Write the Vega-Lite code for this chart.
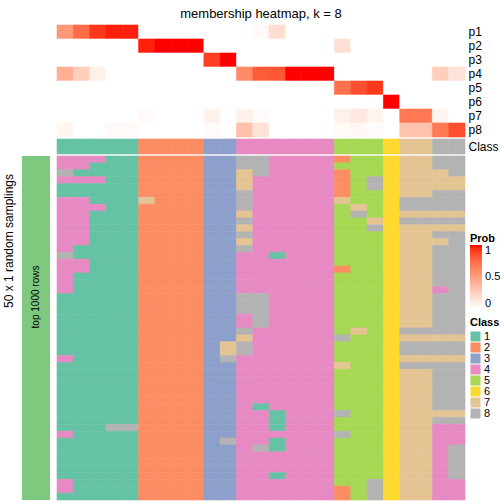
{
"$schema": "https://vega.github.io/schema/vega-lite/v6.json",
"padding": {"left": 2, "top": 7, "right": 0, "bottom": 0},
"bounds": "flush",
"columns": 2,
"spacing": {"row": 2, "column": 7},
"config": {"font": "Liberation Sans", "view": {"stroke": null}},
"datasets": {
"top": [
{"p":"p1","c":0,"v":0.53},{"p":"p1","c":1,"v":0.74},{"p":"p1","c":2,"v":0.92},{"p":"p1","c":3,"v":0.97},{"p":"p1","c":4,"v":0.97},{"p":"p1","c":5,"v":0},{"p":"p1","c":6,"v":0},{"p":"p1","c":7,"v":0},{"p":"p1","c":8,"v":0},{"p":"p1","c":9,"v":0},{"p":"p1","c":10,"v":0},{"p":"p1","c":11,"v":0},{"p":"p1","c":12,"v":0.03},{"p":"p1","c":13,"v":0.18},{"p":"p1","c":14,"v":0},{"p":"p1","c":15,"v":0},{"p":"p1","c":16,"v":0},{"p":"p1","c":17,"v":0},{"p":"p1","c":18,"v":0},{"p":"p1","c":19,"v":0},{"p":"p1","c":20,"v":0},{"p":"p1","c":21,"v":0},{"p":"p1","c":22,"v":0},{"p":"p1","c":23,"v":0},{"p":"p1","c":24,"v":0},
{"p":"p2","c":0,"v":0},{"p":"p2","c":1,"v":0},{"p":"p2","c":2,"v":0},{"p":"p2","c":3,"v":0},{"p":"p2","c":4,"v":0},{"p":"p2","c":5,"v":0.97},{"p":"p2","c":6,"v":1},{"p":"p2","c":7,"v":1},{"p":"p2","c":8,"v":1},{"p":"p2","c":9,"v":0},{"p":"p2","c":10,"v":0},{"p":"p2","c":11,"v":0},{"p":"p2","c":12,"v":0},{"p":"p2","c":13,"v":0},{"p":"p2","c":14,"v":0},{"p":"p2","c":15,"v":0},{"p":"p2","c":16,"v":0},{"p":"p2","c":17,"v":0.17},{"p":"p2","c":18,"v":0},{"p":"p2","c":19,"v":0},{"p":"p2","c":20,"v":0},{"p":"p2","c":21,"v":0},{"p":"p2","c":22,"v":0},{"p":"p2","c":23,"v":0},{"p":"p2","c":24,"v":0},
{"p":"p3","c":0,"v":0},{"p":"p3","c":1,"v":0},{"p":"p3","c":2,"v":0},{"p":"p3","c":3,"v":0},{"p":"p3","c":4,"v":0},{"p":"p3","c":5,"v":0},{"p":"p3","c":6,"v":0},{"p":"p3","c":7,"v":0},{"p":"p3","c":8,"v":0},{"p":"p3","c":9,"v":0.9},{"p":"p3","c":10,"v":1},{"p":"p3","c":11,"v":0},{"p":"p3","c":12,"v":0},{"p":"p3","c":13,"v":0},{"p":"p3","c":14,"v":0},{"p":"p3","c":15,"v":0},{"p":"p3","c":16,"v":0},{"p":"p3","c":17,"v":0},{"p":"p3","c":18,"v":0},{"p":"p3","c":19,"v":0},{"p":"p3","c":20,"v":0},{"p":"p3","c":21,"v":0},{"p":"p3","c":22,"v":0},{"p":"p3","c":23,"v":0},{"p":"p3","c":24,"v":0},
{"p":"p4","c":0,"v":0.42},{"p":"p4","c":1,"v":0.26},{"p":"p4","c":2,"v":0.08},{"p":"p4","c":3,"v":0},{"p":"p4","c":4,"v":0},{"p":"p4","c":5,"v":0},{"p":"p4","c":6,"v":0},{"p":"p4","c":7,"v":0},{"p":"p4","c":8,"v":0},{"p":"p4","c":9,"v":0},{"p":"p4","c":10,"v":0},{"p":"p4","c":11,"v":0.6},{"p":"p4","c":12,"v":0.8},{"p":"p4","c":13,"v":0.82},{"p":"p4","c":14,"v":1},{"p":"p4","c":15,"v":1},{"p":"p4","c":16,"v":1},{"p":"p4","c":17,"v":0},{"p":"p4","c":18,"v":0},{"p":"p4","c":19,"v":0},{"p":"p4","c":20,"v":0},{"p":"p4","c":21,"v":0},{"p":"p4","c":22,"v":0},{"p":"p4","c":23,"v":0.26},{"p":"p4","c":24,"v":0.15},
{"p":"p5","c":0,"v":0},{"p":"p5","c":1,"v":0},{"p":"p5","c":2,"v":0},{"p":"p5","c":3,"v":0},{"p":"p5","c":4,"v":0},{"p":"p5","c":5,"v":0},{"p":"p5","c":6,"v":0},{"p":"p5","c":7,"v":0},{"p":"p5","c":8,"v":0},{"p":"p5","c":9,"v":0},{"p":"p5","c":10,"v":0},{"p":"p5","c":11,"v":0},{"p":"p5","c":12,"v":0},{"p":"p5","c":13,"v":0},{"p":"p5","c":14,"v":0},{"p":"p5","c":15,"v":0},{"p":"p5","c":16,"v":0},{"p":"p5","c":17,"v":0.72},{"p":"p5","c":18,"v":0.84},{"p":"p5","c":19,"v":0.92},{"p":"p5","c":20,"v":0},{"p":"p5","c":21,"v":0},{"p":"p5","c":22,"v":0},{"p":"p5","c":23,"v":0},{"p":"p5","c":24,"v":0},
{"p":"p6","c":0,"v":0},{"p":"p6","c":1,"v":0},{"p":"p6","c":2,"v":0},{"p":"p6","c":3,"v":0},{"p":"p6","c":4,"v":0},{"p":"p6","c":5,"v":0},{"p":"p6","c":6,"v":0},{"p":"p6","c":7,"v":0},{"p":"p6","c":8,"v":0},{"p":"p6","c":9,"v":0},{"p":"p6","c":10,"v":0},{"p":"p6","c":11,"v":0},{"p":"p6","c":12,"v":0},{"p":"p6","c":13,"v":0},{"p":"p6","c":14,"v":0},{"p":"p6","c":15,"v":0},{"p":"p6","c":16,"v":0},{"p":"p6","c":17,"v":0},{"p":"p6","c":18,"v":0},{"p":"p6","c":19,"v":0},{"p":"p6","c":20,"v":1},{"p":"p6","c":21,"v":0},{"p":"p6","c":22,"v":0},{"p":"p6","c":23,"v":0},{"p":"p6","c":24,"v":0},
{"p":"p7","c":0,"v":0},{"p":"p7","c":1,"v":0},{"p":"p7","c":2,"v":0},{"p":"p7","c":3,"v":0},{"p":"p7","c":4,"v":0},{"p":"p7","c":5,"v":0.03},{"p":"p7","c":6,"v":0},{"p":"p7","c":7,"v":0},{"p":"p7","c":8,"v":0},{"p":"p7","c":9,"v":0.07},{"p":"p7","c":10,"v":0},{"p":"p7","c":11,"v":0.07},{"p":"p7","c":12,"v":0.02},{"p":"p7","c":13,"v":0},{"p":"p7","c":14,"v":0},{"p":"p7","c":15,"v":0},{"p":"p7","c":16,"v":0},{"p":"p7","c":17,"v":0.08},{"p":"p7","c":18,"v":0.12},{"p":"p7","c":19,"v":0.06},{"p":"p7","c":20,"v":0},{"p":"p7","c":21,"v":0.68},{"p":"p7","c":22,"v":0.68},{"p":"p7","c":23,"v":0.06},{"p":"p7","c":24,"v":0},
{"p":"p8","c":0,"v":0.05},{"p":"p8","c":1,"v":0},{"p":"p8","c":2,"v":0},{"p":"p8","c":3,"v":0.03},{"p":"p8","c":4,"v":0.03},{"p":"p8","c":5,"v":0},{"p":"p8","c":6,"v":0},{"p":"p8","c":7,"v":0},{"p":"p8","c":8,"v":0},{"p":"p8","c":9,"v":0.03},{"p":"p8","c":10,"v":0},{"p":"p8","c":11,"v":0.33},{"p":"p8","c":12,"v":0.15},{"p":"p8","c":13,"v":0},{"p":"p8","c":14,"v":0},{"p":"p8","c":15,"v":0},{"p":"p8","c":16,"v":0},{"p":"p8","c":17,"v":0.03},{"p":"p8","c":18,"v":0.04},{"p":"p8","c":19,"v":0.02},{"p":"p8","c":20,"v":0},{"p":"p8","c":21,"v":0.32},{"p":"p8","c":22,"v":0.32},{"p":"p8","c":23,"v":0.68},{"p":"p8","c":24,"v":0.85}
],
"cls": [
{"c":0,"k":1},{"c":1,"k":1},{"c":2,"k":1},{"c":3,"k":1},{"c":4,"k":1},{"c":5,"k":2},{"c":6,"k":2},{"c":7,"k":2},{"c":8,"k":2},{"c":9,"k":3},{"c":10,"k":3},{"c":11,"k":4},{"c":12,"k":4},{"c":13,"k":4},{"c":14,"k":4},{"c":15,"k":4},{"c":16,"k":4},{"c":17,"k":5},{"c":18,"k":5},{"c":19,"k":5},{"c":20,"k":6},{"c":21,"k":7},{"c":22,"k":7},{"c":23,"k":8},{"c":24,"k":8}
],
"mem": [
{"r":0,"c":0,"k":4},{"r":0,"c":1,"k":4},{"r":0,"c":2,"k":4},{"r":0,"c":3,"k":1},{"r":0,"c":4,"k":1},{"r":0,"c":5,"k":2},{"r":0,"c":6,"k":2},{"r":0,"c":7,"k":2},{"r":0,"c":8,"k":2},{"r":0,"c":9,"k":3},{"r":0,"c":10,"k":3},{"r":0,"c":11,"k":8},{"r":0,"c":12,"k":8},{"r":0,"c":13,"k":4},{"r":0,"c":14,"k":4},{"r":0,"c":15,"k":4},{"r":0,"c":16,"k":4},{"r":0,"c":17,"k":2},{"r":0,"c":18,"k":5},{"r":0,"c":19,"k":5},{"r":0,"c":20,"k":6},{"r":0,"c":21,"k":7},{"r":0,"c":22,"k":7},{"r":0,"c":23,"k":8},{"r":0,"c":24,"k":8},
{"r":1,"c":0,"k":4},{"r":1,"c":1,"k":4},{"r":1,"c":2,"k":1},{"r":1,"c":3,"k":1},{"r":1,"c":4,"k":1},{"r":1,"c":5,"k":2},{"r":1,"c":6,"k":2},{"r":1,"c":7,"k":2},{"r":1,"c":8,"k":2},{"r":1,"c":9,"k":3},{"r":1,"c":10,"k":3},{"r":1,"c":11,"k":8},{"r":1,"c":12,"k":8},{"r":1,"c":13,"k":4},{"r":1,"c":14,"k":4},{"r":1,"c":15,"k":4},{"r":1,"c":16,"k":4},{"r":1,"c":17,"k":5},{"r":1,"c":18,"k":5},{"r":1,"c":19,"k":5},{"r":1,"c":20,"k":6},{"r":1,"c":21,"k":7},{"r":1,"c":22,"k":7},{"r":1,"c":23,"k":8},{"r":1,"c":24,"k":8},
{"r":2,"c":0,"k":8},{"r":2,"c":1,"k":1},{"r":2,"c":2,"k":1},{"r":2,"c":3,"k":1},{"r":2,"c":4,"k":1},{"r":2,"c":5,"k":2},{"r":2,"c":6,"k":2},{"r":2,"c":7,"k":2},{"r":2,"c":8,"k":2},{"r":2,"c":9,"k":3},{"r":2,"c":10,"k":3},{"r":2,"c":11,"k":7},{"r":2,"c":12,"k":8},{"r":2,"c":13,"k":4},{"r":2,"c":14,"k":4},{"r":2,"c":15,"k":4},{"r":2,"c":16,"k":4},{"r":2,"c":17,"k":2},{"r":2,"c":18,"k":5},{"r":2,"c":19,"k":5},{"r":2,"c":20,"k":6},{"r":2,"c":21,"k":7},{"r":2,"c":22,"k":7},{"r":2,"c":23,"k":7},{"r":2,"c":24,"k":8},
{"r":3,"c":0,"k":4},{"r":3,"c":1,"k":4},{"r":3,"c":2,"k":4},{"r":3,"c":3,"k":1},{"r":3,"c":4,"k":1},{"r":3,"c":5,"k":2},{"r":3,"c":6,"k":2},{"r":3,"c":7,"k":2},{"r":3,"c":8,"k":2},{"r":3,"c":9,"k":3},{"r":3,"c":10,"k":3},{"r":3,"c":11,"k":7},{"r":3,"c":12,"k":4},{"r":3,"c":13,"k":4},{"r":3,"c":14,"k":4},{"r":3,"c":15,"k":4},{"r":3,"c":16,"k":4},{"r":3,"c":17,"k":2},{"r":3,"c":18,"k":5},{"r":3,"c":19,"k":8},{"r":3,"c":20,"k":6},{"r":3,"c":21,"k":7},{"r":3,"c":22,"k":7},{"r":3,"c":23,"k":7},{"r":3,"c":24,"k":7},
{"r":4,"c":0,"k":1},{"r":4,"c":1,"k":1},{"r":4,"c":2,"k":1},{"r":4,"c":3,"k":1},{"r":4,"c":4,"k":1},{"r":4,"c":5,"k":2},{"r":4,"c":6,"k":2},{"r":4,"c":7,"k":2},{"r":4,"c":8,"k":2},{"r":4,"c":9,"k":3},{"r":4,"c":10,"k":3},{"r":4,"c":11,"k":7},{"r":4,"c":12,"k":4},{"r":4,"c":13,"k":4},{"r":4,"c":14,"k":4},{"r":4,"c":15,"k":4},{"r":4,"c":16,"k":4},{"r":4,"c":17,"k":2},{"r":4,"c":18,"k":5},{"r":4,"c":19,"k":8},{"r":4,"c":20,"k":6},{"r":4,"c":21,"k":7},{"r":4,"c":22,"k":7},{"r":4,"c":23,"k":7},{"r":4,"c":24,"k":7},
{"r":5,"c":0,"k":1},{"r":5,"c":1,"k":1},{"r":5,"c":2,"k":1},{"r":5,"c":3,"k":1},{"r":5,"c":4,"k":1},{"r":5,"c":5,"k":2},{"r":5,"c":6,"k":2},{"r":5,"c":7,"k":2},{"r":5,"c":8,"k":2},{"r":5,"c":9,"k":3},{"r":5,"c":10,"k":3},{"r":5,"c":11,"k":8},{"r":5,"c":12,"k":4},{"r":5,"c":13,"k":4},{"r":5,"c":14,"k":4},{"r":5,"c":15,"k":4},{"r":5,"c":16,"k":4},{"r":5,"c":17,"k":2},{"r":5,"c":18,"k":5},{"r":5,"c":19,"k":5},{"r":5,"c":20,"k":6},{"r":5,"c":21,"k":7},{"r":5,"c":22,"k":7},{"r":5,"c":23,"k":8},{"r":5,"c":24,"k":8},
{"r":6,"c":0,"k":4},{"r":6,"c":1,"k":4},{"r":6,"c":2,"k":1},{"r":6,"c":3,"k":1},{"r":6,"c":4,"k":1},{"r":6,"c":5,"k":7},{"r":6,"c":6,"k":2},{"r":6,"c":7,"k":2},{"r":6,"c":8,"k":2},{"r":6,"c":9,"k":3},{"r":6,"c":10,"k":3},{"r":6,"c":11,"k":8},{"r":6,"c":12,"k":4},{"r":6,"c":13,"k":4},{"r":6,"c":14,"k":4},{"r":6,"c":15,"k":4},{"r":6,"c":16,"k":4},{"r":6,"c":17,"k":7},{"r":6,"c":18,"k":5},{"r":6,"c":19,"k":5},{"r":6,"c":20,"k":6},{"r":6,"c":21,"k":8},{"r":6,"c":22,"k":8},{"r":6,"c":23,"k":8},{"r":6,"c":24,"k":8},
{"r":7,"c":0,"k":4},{"r":7,"c":1,"k":4},{"r":7,"c":2,"k":4},{"r":7,"c":3,"k":1},{"r":7,"c":4,"k":1},{"r":7,"c":5,"k":2},{"r":7,"c":6,"k":2},{"r":7,"c":7,"k":2},{"r":7,"c":8,"k":2},{"r":7,"c":9,"k":3},{"r":7,"c":10,"k":3},{"r":7,"c":11,"k":8},{"r":7,"c":12,"k":4},{"r":7,"c":13,"k":4},{"r":7,"c":14,"k":4},{"r":7,"c":15,"k":4},{"r":7,"c":16,"k":4},{"r":7,"c":17,"k":5},{"r":7,"c":18,"k":7},{"r":7,"c":19,"k":5},{"r":7,"c":20,"k":6},{"r":7,"c":21,"k":8},{"r":7,"c":22,"k":8},{"r":7,"c":23,"k":8},{"r":7,"c":24,"k":8},
{"r":8,"c":0,"k":4},{"r":8,"c":1,"k":4},{"r":8,"c":2,"k":1},{"r":8,"c":3,"k":1},{"r":8,"c":4,"k":1},{"r":8,"c":5,"k":2},{"r":8,"c":6,"k":2},{"r":8,"c":7,"k":2},{"r":8,"c":8,"k":2},{"r":8,"c":9,"k":3},{"r":8,"c":10,"k":3},{"r":8,"c":11,"k":7},{"r":8,"c":12,"k":4},{"r":8,"c":13,"k":4},{"r":8,"c":14,"k":4},{"r":8,"c":15,"k":4},{"r":8,"c":16,"k":4},{"r":8,"c":17,"k":5},{"r":8,"c":18,"k":8},{"r":8,"c":19,"k":5},{"r":8,"c":20,"k":6},{"r":8,"c":21,"k":7},{"r":8,"c":22,"k":7},{"r":8,"c":23,"k":7},{"r":8,"c":24,"k":7},
{"r":9,"c":0,"k":4},{"r":9,"c":1,"k":4},{"r":9,"c":2,"k":1},{"r":9,"c":3,"k":1},{"r":9,"c":4,"k":1},{"r":9,"c":5,"k":2},{"r":9,"c":6,"k":2},{"r":9,"c":7,"k":2},{"r":9,"c":8,"k":2},{"r":9,"c":9,"k":3},{"r":9,"c":10,"k":3},{"r":9,"c":11,"k":8},{"r":9,"c":12,"k":4},{"r":9,"c":13,"k":4},{"r":9,"c":14,"k":4},{"r":9,"c":15,"k":4},{"r":9,"c":16,"k":4},{"r":9,"c":17,"k":5},{"r":9,"c":18,"k":5},{"r":9,"c":19,"k":7},{"r":9,"c":20,"k":6},{"r":9,"c":21,"k":8},{"r":9,"c":22,"k":8},{"r":9,"c":23,"k":8},{"r":9,"c":24,"k":8},
{"r":10,"c":0,"k":4},{"r":10,"c":1,"k":4},{"r":10,"c":2,"k":1},{"r":10,"c":3,"k":1},{"r":10,"c":4,"k":1},{"r":10,"c":5,"k":2},{"r":10,"c":6,"k":2},{"r":10,"c":7,"k":2},{"r":10,"c":8,"k":2},{"r":10,"c":9,"k":3},{"r":10,"c":10,"k":3},{"r":10,"c":11,"k":7},{"r":10,"c":12,"k":4},{"r":10,"c":13,"k":4},{"r":10,"c":14,"k":4},{"r":10,"c":15,"k":4},{"r":10,"c":16,"k":4},{"r":10,"c":17,"k":5},{"r":10,"c":18,"k":5},{"r":10,"c":19,"k":8},{"r":10,"c":20,"k":6},{"r":10,"c":21,"k":7},{"r":10,"c":22,"k":7},{"r":10,"c":23,"k":7},{"r":10,"c":24,"k":7},
{"r":11,"c":0,"k":4},{"r":11,"c":1,"k":4},{"r":11,"c":2,"k":1},{"r":11,"c":3,"k":1},{"r":11,"c":4,"k":1},{"r":11,"c":5,"k":2},{"r":11,"c":6,"k":2},{"r":11,"c":7,"k":2},{"r":11,"c":8,"k":2},{"r":11,"c":9,"k":3},{"r":11,"c":10,"k":3},{"r":11,"c":11,"k":8},{"r":11,"c":12,"k":4},{"r":11,"c":13,"k":4},{"r":11,"c":14,"k":4},{"r":11,"c":15,"k":4},{"r":11,"c":16,"k":4},{"r":11,"c":17,"k":5},{"r":11,"c":18,"k":5},{"r":11,"c":19,"k":5},{"r":11,"c":20,"k":6},{"r":11,"c":21,"k":7},{"r":11,"c":22,"k":7},{"r":11,"c":23,"k":8},{"r":11,"c":24,"k":8},
{"r":12,"c":0,"k":4},{"r":12,"c":1,"k":4},{"r":12,"c":2,"k":1},{"r":12,"c":3,"k":1},{"r":12,"c":4,"k":1},{"r":12,"c":5,"k":2},{"r":12,"c":6,"k":2},{"r":12,"c":7,"k":2},{"r":12,"c":8,"k":2},{"r":12,"c":9,"k":3},{"r":12,"c":10,"k":3},{"r":12,"c":11,"k":7},{"r":12,"c":12,"k":4},{"r":12,"c":13,"k":4},{"r":12,"c":14,"k":4},{"r":12,"c":15,"k":4},{"r":12,"c":16,"k":4},{"r":12,"c":17,"k":5},{"r":12,"c":18,"k":5},{"r":12,"c":19,"k":5},{"r":12,"c":20,"k":6},{"r":12,"c":21,"k":7},{"r":12,"c":22,"k":7},{"r":12,"c":23,"k":7},{"r":12,"c":24,"k":8},
{"r":13,"c":0,"k":4},{"r":13,"c":1,"k":1},{"r":13,"c":2,"k":1},{"r":13,"c":3,"k":1},{"r":13,"c":4,"k":1},{"r":13,"c":5,"k":2},{"r":13,"c":6,"k":2},{"r":13,"c":7,"k":2},{"r":13,"c":8,"k":2},{"r":13,"c":9,"k":3},{"r":13,"c":10,"k":3},{"r":13,"c":11,"k":8},{"r":13,"c":12,"k":4},{"r":13,"c":13,"k":4},{"r":13,"c":14,"k":4},{"r":13,"c":15,"k":4},{"r":13,"c":16,"k":4},{"r":13,"c":17,"k":5},{"r":13,"c":18,"k":5},{"r":13,"c":19,"k":5},{"r":13,"c":20,"k":6},{"r":13,"c":21,"k":7},{"r":13,"c":22,"k":7},{"r":13,"c":23,"k":8},{"r":13,"c":24,"k":8},
{"r":14,"c":0,"k":8},{"r":14,"c":1,"k":1},{"r":14,"c":2,"k":1},{"r":14,"c":3,"k":1},{"r":14,"c":4,"k":1},{"r":14,"c":5,"k":2},{"r":14,"c":6,"k":2},{"r":14,"c":7,"k":2},{"r":14,"c":8,"k":2},{"r":14,"c":9,"k":3},{"r":14,"c":10,"k":3},{"r":14,"c":11,"k":4},{"r":14,"c":12,"k":4},{"r":14,"c":13,"k":1},{"r":14,"c":14,"k":4},{"r":14,"c":15,"k":4},{"r":14,"c":16,"k":4},{"r":14,"c":17,"k":5},{"r":14,"c":18,"k":5},{"r":14,"c":19,"k":5},{"r":14,"c":20,"k":6},{"r":14,"c":21,"k":7},{"r":14,"c":22,"k":7},{"r":14,"c":23,"k":8},{"r":14,"c":24,"k":8},
{"r":15,"c":0,"k":4},{"r":15,"c":1,"k":4},{"r":15,"c":2,"k":1},{"r":15,"c":3,"k":1},{"r":15,"c":4,"k":1},{"r":15,"c":5,"k":2},{"r":15,"c":6,"k":2},{"r":15,"c":7,"k":2},{"r":15,"c":8,"k":2},{"r":15,"c":9,"k":3},{"r":15,"c":10,"k":3},{"r":15,"c":11,"k":4},{"r":15,"c":12,"k":4},{"r":15,"c":13,"k":4},{"r":15,"c":14,"k":4},{"r":15,"c":15,"k":4},{"r":15,"c":16,"k":4},{"r":15,"c":17,"k":5},{"r":15,"c":18,"k":5},{"r":15,"c":19,"k":5},{"r":15,"c":20,"k":6},{"r":15,"c":21,"k":7},{"r":15,"c":22,"k":7},{"r":15,"c":23,"k":8},{"r":15,"c":24,"k":8},
{"r":16,"c":0,"k":4},{"r":16,"c":1,"k":4},{"r":16,"c":2,"k":1},{"r":16,"c":3,"k":1},{"r":16,"c":4,"k":1},{"r":16,"c":5,"k":2},{"r":16,"c":6,"k":2},{"r":16,"c":7,"k":2},{"r":16,"c":8,"k":2},{"r":16,"c":9,"k":3},{"r":16,"c":10,"k":3},{"r":16,"c":11,"k":4},{"r":16,"c":12,"k":4},{"r":16,"c":13,"k":4},{"r":16,"c":14,"k":4},{"r":16,"c":15,"k":4},{"r":16,"c":16,"k":4},{"r":16,"c":17,"k":2},{"r":16,"c":18,"k":5},{"r":16,"c":19,"k":5},{"r":16,"c":20,"k":6},{"r":16,"c":21,"k":7},{"r":16,"c":22,"k":7},{"r":16,"c":23,"k":8},{"r":16,"c":24,"k":8},
{"r":17,"c":0,"k":4},{"r":17,"c":1,"k":1},{"r":17,"c":2,"k":1},{"r":17,"c":3,"k":1},{"r":17,"c":4,"k":1},{"r":17,"c":5,"k":2},{"r":17,"c":6,"k":2},{"r":17,"c":7,"k":2},{"r":17,"c":8,"k":2},{"r":17,"c":9,"k":3},{"r":17,"c":10,"k":3},{"r":17,"c":11,"k":4},{"r":17,"c":12,"k":4},{"r":17,"c":13,"k":4},{"r":17,"c":14,"k":4},{"r":17,"c":15,"k":4},{"r":17,"c":16,"k":4},{"r":17,"c":17,"k":5},{"r":17,"c":18,"k":5},{"r":17,"c":19,"k":5},{"r":17,"c":20,"k":6},{"r":17,"c":21,"k":7},{"r":17,"c":22,"k":7},{"r":17,"c":23,"k":8},{"r":17,"c":24,"k":8},
{"r":18,"c":0,"k":4},{"r":18,"c":1,"k":1},{"r":18,"c":2,"k":1},{"r":18,"c":3,"k":1},{"r":18,"c":4,"k":1},{"r":18,"c":5,"k":2},{"r":18,"c":6,"k":2},{"r":18,"c":7,"k":2},{"r":18,"c":8,"k":2},{"r":18,"c":9,"k":3},{"r":18,"c":10,"k":3},{"r":18,"c":11,"k":4},{"r":18,"c":12,"k":4},{"r":18,"c":13,"k":4},{"r":18,"c":14,"k":4},{"r":18,"c":15,"k":4},{"r":18,"c":16,"k":4},{"r":18,"c":17,"k":5},{"r":18,"c":18,"k":5},{"r":18,"c":19,"k":5},{"r":18,"c":20,"k":6},{"r":18,"c":21,"k":7},{"r":18,"c":22,"k":7},{"r":18,"c":23,"k":8},{"r":18,"c":24,"k":8},
{"r":19,"c":0,"k":4},{"r":19,"c":1,"k":1},{"r":19,"c":2,"k":1},{"r":19,"c":3,"k":1},{"r":19,"c":4,"k":1},{"r":19,"c":5,"k":2},{"r":19,"c":6,"k":2},{"r":19,"c":7,"k":2},{"r":19,"c":8,"k":2},{"r":19,"c":9,"k":3},{"r":19,"c":10,"k":3},{"r":19,"c":11,"k":4},{"r":19,"c":12,"k":4},{"r":19,"c":13,"k":4},{"r":19,"c":14,"k":4},{"r":19,"c":15,"k":4},{"r":19,"c":16,"k":4},{"r":19,"c":17,"k":5},{"r":19,"c":18,"k":5},{"r":19,"c":19,"k":5},{"r":19,"c":20,"k":6},{"r":19,"c":21,"k":7},{"r":19,"c":22,"k":7},{"r":19,"c":23,"k":4},{"r":19,"c":24,"k":8},
{"r":20,"c":0,"k":1},{"r":20,"c":1,"k":1},{"r":20,"c":2,"k":1},{"r":20,"c":3,"k":1},{"r":20,"c":4,"k":1},{"r":20,"c":5,"k":2},{"r":20,"c":6,"k":2},{"r":20,"c":7,"k":2},{"r":20,"c":8,"k":2},{"r":20,"c":9,"k":3},{"r":20,"c":10,"k":3},{"r":20,"c":11,"k":8},{"r":20,"c":12,"k":8},{"r":20,"c":13,"k":4},{"r":20,"c":14,"k":4},{"r":20,"c":15,"k":4},{"r":20,"c":16,"k":4},{"r":20,"c":17,"k":5},{"r":20,"c":18,"k":5},{"r":20,"c":19,"k":5},{"r":20,"c":20,"k":6},{"r":20,"c":21,"k":7},{"r":20,"c":22,"k":7},{"r":20,"c":23,"k":8},{"r":20,"c":24,"k":8},
{"r":21,"c":0,"k":1},{"r":21,"c":1,"k":1},{"r":21,"c":2,"k":1},{"r":21,"c":3,"k":1},{"r":21,"c":4,"k":1},{"r":21,"c":5,"k":2},{"r":21,"c":6,"k":2},{"r":21,"c":7,"k":2},{"r":21,"c":8,"k":2},{"r":21,"c":9,"k":3},{"r":21,"c":10,"k":3},{"r":21,"c":11,"k":8},{"r":21,"c":12,"k":8},{"r":21,"c":13,"k":4},{"r":21,"c":14,"k":4},{"r":21,"c":15,"k":4},{"r":21,"c":16,"k":4},{"r":21,"c":17,"k":5},{"r":21,"c":18,"k":5},{"r":21,"c":19,"k":5},{"r":21,"c":20,"k":6},{"r":21,"c":21,"k":7},{"r":21,"c":22,"k":7},{"r":21,"c":23,"k":8},{"r":21,"c":24,"k":8},
{"r":22,"c":0,"k":1},{"r":22,"c":1,"k":1},{"r":22,"c":2,"k":1},{"r":22,"c":3,"k":1},{"r":22,"c":4,"k":1},{"r":22,"c":5,"k":2},{"r":22,"c":6,"k":2},{"r":22,"c":7,"k":2},{"r":22,"c":8,"k":2},{"r":22,"c":9,"k":3},{"r":22,"c":10,"k":3},{"r":22,"c":11,"k":8},{"r":22,"c":12,"k":8},{"r":22,"c":13,"k":4},{"r":22,"c":14,"k":4},{"r":22,"c":15,"k":4},{"r":22,"c":16,"k":4},{"r":22,"c":17,"k":5},{"r":22,"c":18,"k":5},{"r":22,"c":19,"k":5},{"r":22,"c":20,"k":6},{"r":22,"c":21,"k":7},{"r":22,"c":22,"k":7},{"r":22,"c":23,"k":8},{"r":22,"c":24,"k":8},
{"r":23,"c":0,"k":1},{"r":23,"c":1,"k":1},{"r":23,"c":2,"k":1},{"r":23,"c":3,"k":1},{"r":23,"c":4,"k":1},{"r":23,"c":5,"k":2},{"r":23,"c":6,"k":2},{"r":23,"c":7,"k":2},{"r":23,"c":8,"k":2},{"r":23,"c":9,"k":3},{"r":23,"c":10,"k":3},{"r":23,"c":11,"k":4},{"r":23,"c":12,"k":8},{"r":23,"c":13,"k":4},{"r":23,"c":14,"k":4},{"r":23,"c":15,"k":4},{"r":23,"c":16,"k":4},{"r":23,"c":17,"k":5},{"r":23,"c":18,"k":5},{"r":23,"c":19,"k":5},{"r":23,"c":20,"k":6},{"r":23,"c":21,"k":7},{"r":23,"c":22,"k":7},{"r":23,"c":23,"k":8},{"r":23,"c":24,"k":8},
{"r":24,"c":0,"k":1},{"r":24,"c":1,"k":1},{"r":24,"c":2,"k":1},{"r":24,"c":3,"k":1},{"r":24,"c":4,"k":1},{"r":24,"c":5,"k":2},{"r":24,"c":6,"k":2},{"r":24,"c":7,"k":2},{"r":24,"c":8,"k":2},{"r":24,"c":9,"k":3},{"r":24,"c":10,"k":3},{"r":24,"c":11,"k":4},{"r":24,"c":12,"k":8},{"r":24,"c":13,"k":4},{"r":24,"c":14,"k":4},{"r":24,"c":15,"k":4},{"r":24,"c":16,"k":4},{"r":24,"c":17,"k":5},{"r":24,"c":18,"k":5},{"r":24,"c":19,"k":5},{"r":24,"c":20,"k":6},{"r":24,"c":21,"k":7},{"r":24,"c":22,"k":7},{"r":24,"c":23,"k":8},{"r":24,"c":24,"k":8},
{"r":25,"c":0,"k":1},{"r":25,"c":1,"k":1},{"r":25,"c":2,"k":1},{"r":25,"c":3,"k":1},{"r":25,"c":4,"k":1},{"r":25,"c":5,"k":2},{"r":25,"c":6,"k":2},{"r":25,"c":7,"k":2},{"r":25,"c":8,"k":2},{"r":25,"c":9,"k":3},{"r":25,"c":10,"k":3},{"r":25,"c":11,"k":8},{"r":25,"c":12,"k":4},{"r":25,"c":13,"k":4},{"r":25,"c":14,"k":4},{"r":25,"c":15,"k":4},{"r":25,"c":16,"k":4},{"r":25,"c":17,"k":5},{"r":25,"c":18,"k":7},{"r":25,"c":19,"k":5},{"r":25,"c":20,"k":6},{"r":25,"c":21,"k":8},{"r":25,"c":22,"k":8},{"r":25,"c":23,"k":8},{"r":25,"c":24,"k":8},
{"r":26,"c":0,"k":1},{"r":26,"c":1,"k":1},{"r":26,"c":2,"k":1},{"r":26,"c":3,"k":1},{"r":26,"c":4,"k":1},{"r":26,"c":5,"k":2},{"r":26,"c":6,"k":2},{"r":26,"c":7,"k":2},{"r":26,"c":8,"k":2},{"r":26,"c":9,"k":3},{"r":26,"c":10,"k":3},{"r":26,"c":11,"k":7},{"r":26,"c":12,"k":4},{"r":26,"c":13,"k":4},{"r":26,"c":14,"k":4},{"r":26,"c":15,"k":4},{"r":26,"c":16,"k":4},{"r":26,"c":17,"k":8},{"r":26,"c":18,"k":5},{"r":26,"c":19,"k":5},{"r":26,"c":20,"k":6},{"r":26,"c":21,"k":7},{"r":26,"c":22,"k":7},{"r":26,"c":23,"k":7},{"r":26,"c":24,"k":7},
{"r":27,"c":0,"k":1},{"r":27,"c":1,"k":1},{"r":27,"c":2,"k":1},{"r":27,"c":3,"k":1},{"r":27,"c":4,"k":1},{"r":27,"c":5,"k":2},{"r":27,"c":6,"k":2},{"r":27,"c":7,"k":2},{"r":27,"c":8,"k":2},{"r":27,"c":9,"k":3},{"r":27,"c":10,"k":7},{"r":27,"c":11,"k":8},{"r":27,"c":12,"k":4},{"r":27,"c":13,"k":4},{"r":27,"c":14,"k":4},{"r":27,"c":15,"k":4},{"r":27,"c":16,"k":4},{"r":27,"c":17,"k":5},{"r":27,"c":18,"k":5},{"r":27,"c":19,"k":5},{"r":27,"c":20,"k":6},{"r":27,"c":21,"k":8},{"r":27,"c":22,"k":8},{"r":27,"c":23,"k":8},{"r":27,"c":24,"k":8},
{"r":28,"c":0,"k":1},{"r":28,"c":1,"k":1},{"r":28,"c":2,"k":1},{"r":28,"c":3,"k":1},{"r":28,"c":4,"k":1},{"r":28,"c":5,"k":2},{"r":28,"c":6,"k":2},{"r":28,"c":7,"k":2},{"r":28,"c":8,"k":2},{"r":28,"c":9,"k":3},{"r":28,"c":10,"k":7},{"r":28,"c":11,"k":8},{"r":28,"c":12,"k":4},{"r":28,"c":13,"k":4},{"r":28,"c":14,"k":4},{"r":28,"c":15,"k":4},{"r":28,"c":16,"k":4},{"r":28,"c":17,"k":5},{"r":28,"c":18,"k":5},{"r":28,"c":19,"k":5},{"r":28,"c":20,"k":6},{"r":28,"c":21,"k":8},{"r":28,"c":22,"k":8},{"r":28,"c":23,"k":8},{"r":28,"c":24,"k":8},
{"r":29,"c":0,"k":4},{"r":29,"c":1,"k":1},{"r":29,"c":2,"k":1},{"r":29,"c":3,"k":1},{"r":29,"c":4,"k":1},{"r":29,"c":5,"k":2},{"r":29,"c":6,"k":2},{"r":29,"c":7,"k":2},{"r":29,"c":8,"k":2},{"r":29,"c":9,"k":3},{"r":29,"c":10,"k":8},{"r":29,"c":11,"k":4},{"r":29,"c":12,"k":4},{"r":29,"c":13,"k":4},{"r":29,"c":14,"k":4},{"r":29,"c":15,"k":4},{"r":29,"c":16,"k":4},{"r":29,"c":17,"k":5},{"r":29,"c":18,"k":5},{"r":29,"c":19,"k":5},{"r":29,"c":20,"k":6},{"r":29,"c":21,"k":7},{"r":29,"c":22,"k":7},{"r":29,"c":23,"k":7},{"r":29,"c":24,"k":7},
{"r":30,"c":0,"k":1},{"r":30,"c":1,"k":1},{"r":30,"c":2,"k":1},{"r":30,"c":3,"k":1},{"r":30,"c":4,"k":1},{"r":30,"c":5,"k":2},{"r":30,"c":6,"k":2},{"r":30,"c":7,"k":2},{"r":30,"c":8,"k":2},{"r":30,"c":9,"k":3},{"r":30,"c":10,"k":3},{"r":30,"c":11,"k":4},{"r":30,"c":12,"k":4},{"r":30,"c":13,"k":4},{"r":30,"c":14,"k":4},{"r":30,"c":15,"k":4},{"r":30,"c":16,"k":4},{"r":30,"c":17,"k":7},{"r":30,"c":18,"k":5},{"r":30,"c":19,"k":5},{"r":30,"c":20,"k":6},{"r":30,"c":21,"k":8},{"r":30,"c":22,"k":8},{"r":30,"c":23,"k":8},{"r":30,"c":24,"k":8},
{"r":31,"c":0,"k":1},{"r":31,"c":1,"k":1},{"r":31,"c":2,"k":1},{"r":31,"c":3,"k":1},{"r":31,"c":4,"k":1},{"r":31,"c":5,"k":2},{"r":31,"c":6,"k":2},{"r":31,"c":7,"k":2},{"r":31,"c":8,"k":2},{"r":31,"c":9,"k":3},{"r":31,"c":10,"k":3},{"r":31,"c":11,"k":4},{"r":31,"c":12,"k":4},{"r":31,"c":13,"k":4},{"r":31,"c":14,"k":4},{"r":31,"c":15,"k":4},{"r":31,"c":16,"k":4},{"r":31,"c":17,"k":5},{"r":31,"c":18,"k":5},{"r":31,"c":19,"k":5},{"r":31,"c":20,"k":6},{"r":31,"c":21,"k":7},{"r":31,"c":22,"k":7},{"r":31,"c":23,"k":8},{"r":31,"c":24,"k":8},
{"r":32,"c":0,"k":1},{"r":32,"c":1,"k":1},{"r":32,"c":2,"k":1},{"r":32,"c":3,"k":1},{"r":32,"c":4,"k":1},{"r":32,"c":5,"k":2},{"r":32,"c":6,"k":2},{"r":32,"c":7,"k":2},{"r":32,"c":8,"k":2},{"r":32,"c":9,"k":3},{"r":32,"c":10,"k":3},{"r":32,"c":11,"k":4},{"r":32,"c":12,"k":4},{"r":32,"c":13,"k":4},{"r":32,"c":14,"k":4},{"r":32,"c":15,"k":4},{"r":32,"c":16,"k":4},{"r":32,"c":17,"k":5},{"r":32,"c":18,"k":5},{"r":32,"c":19,"k":5},{"r":32,"c":20,"k":6},{"r":32,"c":21,"k":7},{"r":32,"c":22,"k":7},{"r":32,"c":23,"k":8},{"r":32,"c":24,"k":8},
{"r":33,"c":0,"k":1},{"r":33,"c":1,"k":1},{"r":33,"c":2,"k":1},{"r":33,"c":3,"k":1},{"r":33,"c":4,"k":1},{"r":33,"c":5,"k":2},{"r":33,"c":6,"k":2},{"r":33,"c":7,"k":2},{"r":33,"c":8,"k":2},{"r":33,"c":9,"k":3},{"r":33,"c":10,"k":3},{"r":33,"c":11,"k":4},{"r":33,"c":12,"k":4},{"r":33,"c":13,"k":4},{"r":33,"c":14,"k":4},{"r":33,"c":15,"k":4},{"r":33,"c":16,"k":4},{"r":33,"c":17,"k":5},{"r":33,"c":18,"k":5},{"r":33,"c":19,"k":5},{"r":33,"c":20,"k":6},{"r":33,"c":21,"k":7},{"r":33,"c":22,"k":7},{"r":33,"c":23,"k":8},{"r":33,"c":24,"k":8},
{"r":34,"c":0,"k":1},{"r":34,"c":1,"k":1},{"r":34,"c":2,"k":1},{"r":34,"c":3,"k":1},{"r":34,"c":4,"k":1},{"r":34,"c":5,"k":2},{"r":34,"c":6,"k":2},{"r":34,"c":7,"k":2},{"r":34,"c":8,"k":2},{"r":34,"c":9,"k":3},{"r":34,"c":10,"k":3},{"r":34,"c":11,"k":4},{"r":34,"c":12,"k":4},{"r":34,"c":13,"k":4},{"r":34,"c":14,"k":4},{"r":34,"c":15,"k":4},{"r":34,"c":16,"k":4},{"r":34,"c":17,"k":5},{"r":34,"c":18,"k":5},{"r":34,"c":19,"k":5},{"r":34,"c":20,"k":6},{"r":34,"c":21,"k":7},{"r":34,"c":22,"k":7},{"r":34,"c":23,"k":8},{"r":34,"c":24,"k":8},
{"r":35,"c":0,"k":1},{"r":35,"c":1,"k":1},{"r":35,"c":2,"k":1},{"r":35,"c":3,"k":1},{"r":35,"c":4,"k":1},{"r":35,"c":5,"k":2},{"r":35,"c":6,"k":2},{"r":35,"c":7,"k":2},{"r":35,"c":8,"k":2},{"r":35,"c":9,"k":3},{"r":35,"c":10,"k":3},{"r":35,"c":11,"k":4},{"r":35,"c":12,"k":4},{"r":35,"c":13,"k":4},{"r":35,"c":14,"k":4},{"r":35,"c":15,"k":4},{"r":35,"c":16,"k":4},{"r":35,"c":17,"k":5},{"r":35,"c":18,"k":5},{"r":35,"c":19,"k":5},{"r":35,"c":20,"k":6},{"r":35,"c":21,"k":7},{"r":35,"c":22,"k":7},{"r":35,"c":23,"k":8},{"r":35,"c":24,"k":8},
{"r":36,"c":0,"k":1},{"r":36,"c":1,"k":1},{"r":36,"c":2,"k":1},{"r":36,"c":3,"k":1},{"r":36,"c":4,"k":1},{"r":36,"c":5,"k":2},{"r":36,"c":6,"k":2},{"r":36,"c":7,"k":2},{"r":36,"c":8,"k":2},{"r":36,"c":9,"k":3},{"r":36,"c":10,"k":3},{"r":36,"c":11,"k":4},{"r":36,"c":12,"k":1},{"r":36,"c":13,"k":4},{"r":36,"c":14,"k":4},{"r":36,"c":15,"k":4},{"r":36,"c":16,"k":4},{"r":36,"c":17,"k":5},{"r":36,"c":18,"k":5},{"r":36,"c":19,"k":5},{"r":36,"c":20,"k":6},{"r":36,"c":21,"k":7},{"r":36,"c":22,"k":7},{"r":36,"c":23,"k":8},{"r":36,"c":24,"k":8},
{"r":37,"c":0,"k":1},{"r":37,"c":1,"k":1},{"r":37,"c":2,"k":1},{"r":37,"c":3,"k":1},{"r":37,"c":4,"k":1},{"r":37,"c":5,"k":2},{"r":37,"c":6,"k":2},{"r":37,"c":7,"k":2},{"r":37,"c":8,"k":2},{"r":37,"c":9,"k":3},{"r":37,"c":10,"k":3},{"r":37,"c":11,"k":4},{"r":37,"c":12,"k":4},{"r":37,"c":13,"k":1},{"r":37,"c":14,"k":4},{"r":37,"c":15,"k":4},{"r":37,"c":16,"k":4},{"r":37,"c":17,"k":8},{"r":37,"c":18,"k":5},{"r":37,"c":19,"k":5},{"r":37,"c":20,"k":6},{"r":37,"c":21,"k":7},{"r":37,"c":22,"k":7},{"r":37,"c":23,"k":7},{"r":37,"c":24,"k":7},
{"r":38,"c":0,"k":1},{"r":38,"c":1,"k":1},{"r":38,"c":2,"k":1},{"r":38,"c":3,"k":1},{"r":38,"c":4,"k":1},{"r":38,"c":5,"k":2},{"r":38,"c":6,"k":2},{"r":38,"c":7,"k":2},{"r":38,"c":8,"k":2},{"r":38,"c":9,"k":3},{"r":38,"c":10,"k":3},{"r":38,"c":11,"k":4},{"r":38,"c":12,"k":4},{"r":38,"c":13,"k":1},{"r":38,"c":14,"k":4},{"r":38,"c":15,"k":4},{"r":38,"c":16,"k":4},{"r":38,"c":17,"k":5},{"r":38,"c":18,"k":5},{"r":38,"c":19,"k":5},{"r":38,"c":20,"k":6},{"r":38,"c":21,"k":7},{"r":38,"c":22,"k":7},{"r":38,"c":23,"k":8},{"r":38,"c":24,"k":8},
{"r":39,"c":0,"k":1},{"r":39,"c":1,"k":1},{"r":39,"c":2,"k":1},{"r":39,"c":3,"k":8},{"r":39,"c":4,"k":8},{"r":39,"c":5,"k":2},{"r":39,"c":6,"k":2},{"r":39,"c":7,"k":2},{"r":39,"c":8,"k":2},{"r":39,"c":9,"k":3},{"r":39,"c":10,"k":3},{"r":39,"c":11,"k":4},{"r":39,"c":12,"k":4},{"r":39,"c":13,"k":1},{"r":39,"c":14,"k":4},{"r":39,"c":15,"k":4},{"r":39,"c":16,"k":4},{"r":39,"c":17,"k":5},{"r":39,"c":18,"k":5},{"r":39,"c":19,"k":5},{"r":39,"c":20,"k":6},{"r":39,"c":21,"k":7},{"r":39,"c":22,"k":7},{"r":39,"c":23,"k":4},{"r":39,"c":24,"k":4},
{"r":40,"c":0,"k":4},{"r":40,"c":1,"k":1},{"r":40,"c":2,"k":1},{"r":40,"c":3,"k":1},{"r":40,"c":4,"k":1},{"r":40,"c":5,"k":2},{"r":40,"c":6,"k":2},{"r":40,"c":7,"k":2},{"r":40,"c":8,"k":2},{"r":40,"c":9,"k":3},{"r":40,"c":10,"k":3},{"r":40,"c":11,"k":4},{"r":40,"c":12,"k":4},{"r":40,"c":13,"k":4},{"r":40,"c":14,"k":4},{"r":40,"c":15,"k":4},{"r":40,"c":16,"k":4},{"r":40,"c":17,"k":8},{"r":40,"c":18,"k":5},{"r":40,"c":19,"k":5},{"r":40,"c":20,"k":6},{"r":40,"c":21,"k":7},{"r":40,"c":22,"k":7},{"r":40,"c":23,"k":4},{"r":40,"c":24,"k":4},
{"r":41,"c":0,"k":1},{"r":41,"c":1,"k":1},{"r":41,"c":2,"k":1},{"r":41,"c":3,"k":1},{"r":41,"c":4,"k":1},{"r":41,"c":5,"k":2},{"r":41,"c":6,"k":2},{"r":41,"c":7,"k":2},{"r":41,"c":8,"k":2},{"r":41,"c":9,"k":3},{"r":41,"c":10,"k":8},{"r":41,"c":11,"k":4},{"r":41,"c":12,"k":4},{"r":41,"c":13,"k":1},{"r":41,"c":14,"k":4},{"r":41,"c":15,"k":4},{"r":41,"c":16,"k":4},{"r":41,"c":17,"k":5},{"r":41,"c":18,"k":5},{"r":41,"c":19,"k":5},{"r":41,"c":20,"k":6},{"r":41,"c":21,"k":7},{"r":41,"c":22,"k":7},{"r":41,"c":23,"k":4},{"r":41,"c":24,"k":4},
{"r":42,"c":0,"k":1},{"r":42,"c":1,"k":1},{"r":42,"c":2,"k":1},{"r":42,"c":3,"k":1},{"r":42,"c":4,"k":1},{"r":42,"c":5,"k":2},{"r":42,"c":6,"k":2},{"r":42,"c":7,"k":2},{"r":42,"c":8,"k":2},{"r":42,"c":9,"k":3},{"r":42,"c":10,"k":3},{"r":42,"c":11,"k":4},{"r":42,"c":12,"k":8},{"r":42,"c":13,"k":1},{"r":42,"c":14,"k":4},{"r":42,"c":15,"k":4},{"r":42,"c":16,"k":4},{"r":42,"c":17,"k":5},{"r":42,"c":18,"k":5},{"r":42,"c":19,"k":5},{"r":42,"c":20,"k":6},{"r":42,"c":21,"k":7},{"r":42,"c":22,"k":7},{"r":42,"c":23,"k":4},{"r":42,"c":24,"k":8},
{"r":43,"c":0,"k":1},{"r":43,"c":1,"k":1},{"r":43,"c":2,"k":1},{"r":43,"c":3,"k":1},{"r":43,"c":4,"k":1},{"r":43,"c":5,"k":2},{"r":43,"c":6,"k":2},{"r":43,"c":7,"k":2},{"r":43,"c":8,"k":2},{"r":43,"c":9,"k":3},{"r":43,"c":10,"k":3},{"r":43,"c":11,"k":4},{"r":43,"c":12,"k":4},{"r":43,"c":13,"k":4},{"r":43,"c":14,"k":4},{"r":43,"c":15,"k":4},{"r":43,"c":16,"k":4},{"r":43,"c":17,"k":5},{"r":43,"c":18,"k":5},{"r":43,"c":19,"k":5},{"r":43,"c":20,"k":6},{"r":43,"c":21,"k":7},{"r":43,"c":22,"k":7},{"r":43,"c":23,"k":4},{"r":43,"c":24,"k":8},
{"r":44,"c":0,"k":1},{"r":44,"c":1,"k":1},{"r":44,"c":2,"k":1},{"r":44,"c":3,"k":1},{"r":44,"c":4,"k":1},{"r":44,"c":5,"k":2},{"r":44,"c":6,"k":2},{"r":44,"c":7,"k":2},{"r":44,"c":8,"k":2},{"r":44,"c":9,"k":3},{"r":44,"c":10,"k":3},{"r":44,"c":11,"k":4},{"r":44,"c":12,"k":4},{"r":44,"c":13,"k":4},{"r":44,"c":14,"k":4},{"r":44,"c":15,"k":4},{"r":44,"c":16,"k":4},{"r":44,"c":17,"k":5},{"r":44,"c":18,"k":5},{"r":44,"c":19,"k":5},{"r":44,"c":20,"k":6},{"r":44,"c":21,"k":7},{"r":44,"c":22,"k":7},{"r":44,"c":23,"k":4},{"r":44,"c":24,"k":8},
{"r":45,"c":0,"k":1},{"r":45,"c":1,"k":1},{"r":45,"c":2,"k":1},{"r":45,"c":3,"k":1},{"r":45,"c":4,"k":1},{"r":45,"c":5,"k":2},{"r":45,"c":6,"k":2},{"r":45,"c":7,"k":2},{"r":45,"c":8,"k":2},{"r":45,"c":9,"k":3},{"r":45,"c":10,"k":3},{"r":45,"c":11,"k":4},{"r":45,"c":12,"k":4},{"r":45,"c":13,"k":4},{"r":45,"c":14,"k":4},{"r":45,"c":15,"k":4},{"r":45,"c":16,"k":4},{"r":45,"c":17,"k":5},{"r":45,"c":18,"k":5},{"r":45,"c":19,"k":5},{"r":45,"c":20,"k":6},{"r":45,"c":21,"k":7},{"r":45,"c":22,"k":7},{"r":45,"c":23,"k":4},{"r":45,"c":24,"k":8},
{"r":46,"c":0,"k":1},{"r":46,"c":1,"k":1},{"r":46,"c":2,"k":1},{"r":46,"c":3,"k":1},{"r":46,"c":4,"k":1},{"r":46,"c":5,"k":2},{"r":46,"c":6,"k":2},{"r":46,"c":7,"k":2},{"r":46,"c":8,"k":2},{"r":46,"c":9,"k":3},{"r":46,"c":10,"k":3},{"r":46,"c":11,"k":4},{"r":46,"c":12,"k":4},{"r":46,"c":13,"k":1},{"r":46,"c":14,"k":4},{"r":46,"c":15,"k":4},{"r":46,"c":16,"k":4},{"r":46,"c":17,"k":5},{"r":46,"c":18,"k":5},{"r":46,"c":19,"k":5},{"r":46,"c":20,"k":6},{"r":46,"c":21,"k":7},{"r":46,"c":22,"k":7},{"r":46,"c":23,"k":4},{"r":46,"c":24,"k":8},
{"r":47,"c":0,"k":4},{"r":47,"c":1,"k":1},{"r":47,"c":2,"k":1},{"r":47,"c":3,"k":1},{"r":47,"c":4,"k":1},{"r":47,"c":5,"k":2},{"r":47,"c":6,"k":2},{"r":47,"c":7,"k":2},{"r":47,"c":8,"k":2},{"r":47,"c":9,"k":3},{"r":47,"c":10,"k":3},{"r":47,"c":11,"k":4},{"r":47,"c":12,"k":4},{"r":47,"c":13,"k":4},{"r":47,"c":14,"k":4},{"r":47,"c":15,"k":4},{"r":47,"c":16,"k":4},{"r":47,"c":17,"k":5},{"r":47,"c":18,"k":5},{"r":47,"c":19,"k":8},{"r":47,"c":20,"k":6},{"r":47,"c":21,"k":7},{"r":47,"c":22,"k":7},{"r":47,"c":23,"k":4},{"r":47,"c":24,"k":4},
{"r":48,"c":0,"k":4},{"r":48,"c":1,"k":1},{"r":48,"c":2,"k":1},{"r":48,"c":3,"k":1},{"r":48,"c":4,"k":1},{"r":48,"c":5,"k":2},{"r":48,"c":6,"k":2},{"r":48,"c":7,"k":2},{"r":48,"c":8,"k":2},{"r":48,"c":9,"k":3},{"r":48,"c":10,"k":3},{"r":48,"c":11,"k":4},{"r":48,"c":12,"k":4},{"r":48,"c":13,"k":4},{"r":48,"c":14,"k":4},{"r":48,"c":15,"k":4},{"r":48,"c":16,"k":4},{"r":48,"c":17,"k":2},{"r":48,"c":18,"k":5},{"r":48,"c":19,"k":8},{"r":48,"c":20,"k":6},{"r":48,"c":21,"k":7},{"r":48,"c":22,"k":7},{"r":48,"c":23,"k":4},{"r":48,"c":24,"k":4},
{"r":49,"c":0,"k":1},{"r":49,"c":1,"k":1},{"r":49,"c":2,"k":1},{"r":49,"c":3,"k":1},{"r":49,"c":4,"k":1},{"r":49,"c":5,"k":2},{"r":49,"c":6,"k":2},{"r":49,"c":7,"k":2},{"r":49,"c":8,"k":2},{"r":49,"c":9,"k":3},{"r":49,"c":10,"k":3},{"r":49,"c":11,"k":4},{"r":49,"c":12,"k":4},{"r":49,"c":13,"k":4},{"r":49,"c":14,"k":4},{"r":49,"c":15,"k":4},{"r":49,"c":16,"k":4},{"r":49,"c":17,"k":2},{"r":49,"c":18,"k":5},{"r":49,"c":19,"k":8},{"r":49,"c":20,"k":6},{"r":49,"c":21,"k":7},{"r":49,"c":22,"k":7},{"r":49,"c":23,"k":4},{"r":49,"c":24,"k":4}
],
"lab": [{"lab": "top 1000 rows"}]
},
"concat": [
{
"width": 28, "height": 112,
"data": {"name": "lab"},
"mark": {"type": "rect", "opacity": 0},
"encoding": {}
},
{
"width": 408, "height": 112,
"title": {"text": "membership heatmap, k = 8", "anchor": "middle", "frame": "group", "fontSize": 13, "fontWeight": "normal", "offset": 4, "color": "black"},
"data": {"name": "top"},
"mark": {"type": "rect", "strokeWidth": 0.6},
"encoding": {
"x": {"field": "c", "type": "ordinal", "axis": null},
"y": {"field": "p", "type": "ordinal", "axis": {"orient": "right", "title": null, "domain": false, "ticks": false, "labelPadding": 3, "labelFontSize": 12, "labelColor": "black"}},
"color": {"field": "v", "type": "quantitative", "scale": {"domain": [0, 1], "range": ["#ffffff", "#ff0000"], "interpolate": "lab"},
"legend": {"title": "Prob", "orient": "none", "legendX": 448, "legendY": 208, "direction": "vertical", "gradientLength": 64, "gradientThickness": 12, "gradientStrokeWidth": 0, "values": [0, 0.5, 1], "format": "~g", "titleFontSize": 11, "titleFontWeight": "bold", "titleColor": "black", "labelFontSize": 11, "labelColor": "black", "titlePadding": 1, "labelOffset": 3}},
"stroke": {"field": "v", "type": "quantitative", "scale": {"domain": [0, 1], "range": ["#ffffff", "#ff0000"], "interpolate": "lab"}, "legend": null}
}
},
{
"width": 28, "height": 15,
"data": {"name": "lab"},
"mark": {"type": "rect", "opacity": 0},
"encoding": {}
},
{
"width": 408, "height": 15,
"data": {"name": "cls"},
"mark": {"type": "rect", "strokeWidth": 0.6},
"encoding": {
"x": {"field": "c", "type": "ordinal", "axis": null},
"y": {"datum": "Class", "type": "ordinal", "axis": {"orient": "right", "title": null, "domain": false, "ticks": false, "labelPadding": 3, "labelFontSize": 12, "labelColor": "black"}},
"fill": {"field": "k", "type": "nominal", "scale": {"domain": [1, 2, 3, 4, 5, 6, 7, 8], "range": ["#66C2A5", "#FC8D62", "#8DA0CB", "#E78AC3", "#A6D854", "#FFD92F", "#E5C494", "#B3B3B3"]},
"legend": {"title": "Class", "orient": "none", "legendX": 448, "legendY": 292, "symbolType": "square", "symbolSize": 100, "symbolStrokeWidth": 0, "titleFontSize": 11, "titleFontWeight": "bold", "titleColor": "black", "labelFontSize": 11, "labelColor": "black", "rowPadding": -3.3, "titlePadding": 3, "labelOffset": 3}},
"stroke": {"field": "k", "type": "nominal", "scale": {"domain": [1, 2, 3, 4, 5, 6, 7, 8], "range": ["#66C2A5", "#FC8D62", "#8DA0CB", "#E78AC3", "#A6D854", "#FFD92F", "#E5C494", "#B3B3B3"]}, "legend": null}
}
},
{
"width": 28, "height": 344,
"title": {"text": "50 x 1 random samplings", "orient": "left", "anchor": "middle", "fontSize": 12, "fontWeight": "normal", "offset": 6, "dx": 87, "color": "black"},
"data": {"name": "lab"},
"layer": [
{"mark": {"type": "rect", "color": "#7FC97F"}, "encoding": {}},
{"mark": {"type": "text", "angle": 270, "fontSize": 10, "color": "black", "dx": 31}, "encoding": {"text": {"field": "lab"}}}
]
},
{
"width": 408, "height": 344,
"data": {"name": "mem"},
"mark": {"type": "rect", "strokeWidth": 0.6},
"encoding": {
"x": {"field": "c", "type": "ordinal", "axis": null},
"y": {"field": "r", "type": "ordinal", "axis": null},
"fill": {"field": "k", "type": "nominal", "scale": {"domain": [1, 2, 3, 4, 5, 6, 7, 8], "range": ["#66C2A5", "#FC8D62", "#8DA0CB", "#E78AC3", "#A6D854", "#FFD92F", "#E5C494", "#B3B3B3"]}},
"stroke": {"field": "k", "type": "nominal", "scale": {"domain": [1, 2, 3, 4, 5, 6, 7, 8], "range": ["#66C2A5", "#FC8D62", "#8DA0CB", "#E78AC3", "#A6D854", "#FFD92F", "#E5C494", "#B3B3B3"]}, "legend": null}
}
}
]
}
